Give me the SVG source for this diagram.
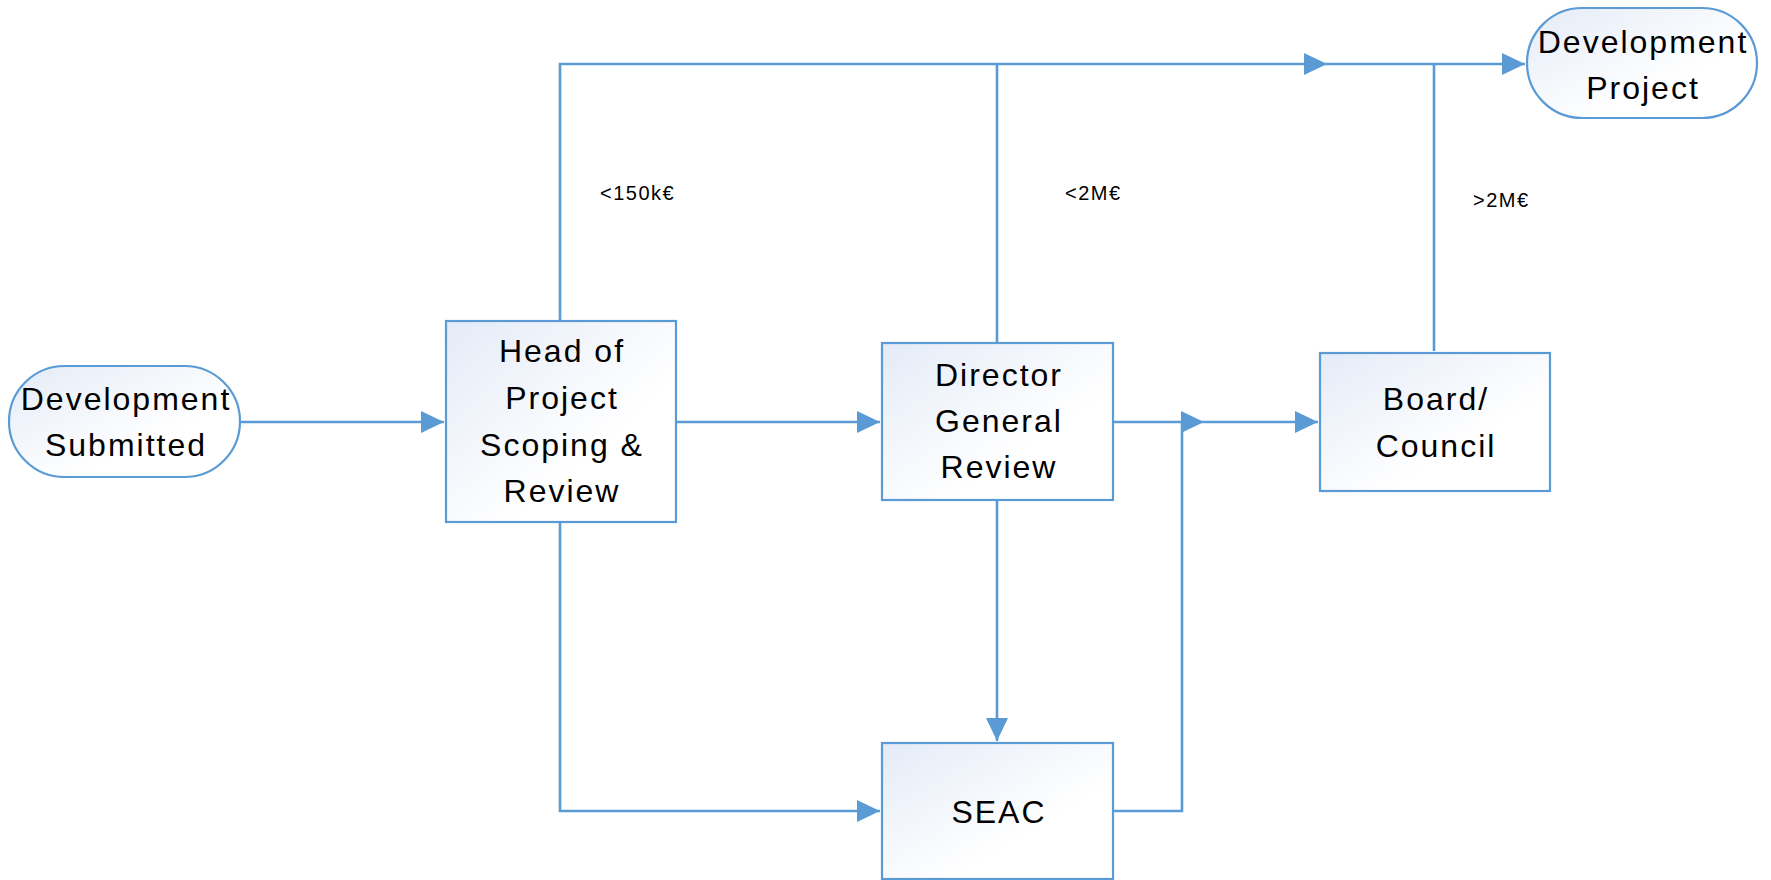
<svg xmlns="http://www.w3.org/2000/svg" width="1771" height="880" viewBox="0 0 1771 880">
<style>
  .node { stroke: #5b9bd5; stroke-width: 2.2; fill: url(#g); }
  .t { font-family: "Liberation Sans", Arial, sans-serif; font-size: 32px; letter-spacing: 2px; fill: #000; text-anchor: middle; }
  .lbl { font-family: "Liberation Sans", Arial, sans-serif; font-size: 20px; letter-spacing: 1.5px; fill: #000; }
  .c { stroke: #5b9bd5; stroke-width: 2.6; fill: none; }
  .ah { fill: #5b9bd5; }
</style>
<defs>
  <linearGradient id="g" x1="0" y1="0" x2="1" y2="1">
    <stop offset="0" stop-color="#e4ebf7"/>
    <stop offset="0.65" stop-color="#ffffff"/>
    <stop offset="1" stop-color="#ffffff"/>
  </linearGradient>
  <marker id="arr" markerUnits="userSpaceOnUse" markerWidth="23" markerHeight="22" refX="23" refY="11" orient="auto">
    <path d="M0,0 L23,11 L0,22 z" fill="#5b9bd5"/>
  </marker>
</defs>
<rect width="1771" height="880" fill="#ffffff"/>

<g id="connectors">
  <path class="c" d="M240,422 H444" marker-end="url(#arr)"/>
  <path class="c" d="M676,422 H880" marker-end="url(#arr)"/>
  <path class="c" d="M1113,422 H1318" marker-end="url(#arr)"/>
  <polygon class="ah" points="1181,411 1204,422 1181,433"/>
  <path class="c" d="M1113,811 H1182 V422"/>
  <path class="c" d="M560,522 V811 H880" marker-end="url(#arr)"/>
  <path class="c" d="M997,500 V741" marker-end="url(#arr)"/>
  <path class="c" d="M560,321 V64 H1525" marker-end="url(#arr)"/>
  <polygon class="ah" points="1304,53 1327,64 1304,75"/>
  <path class="c" d="M997,343 V64"/>
  <path class="c" d="M1434,351 V64"/>
  <text class="lbl" x="600" y="200">&lt;150k€</text>
  <text class="lbl" x="1065" y="200">&lt;2M€</text>
  <text class="lbl" x="1473" y="207">&gt;2M€</text>
</g>

<g id="dev-submitted">
  <rect class="node" x="9" y="366" width="231" height="111" rx="55.5" ry="55.5"/>
  <text class="t" x="126" y="410">Development</text>
  <text class="t" x="126" y="456">Submitted</text>
</g>

<g id="head-of-project">
  <rect class="node" x="446" y="321" width="230" height="201"/>
  <text class="t" x="562" y="362">Head of</text>
  <text class="t" x="562" y="409">Project</text>
  <text class="t" x="562" y="456">Scoping &amp;</text>
  <text class="t" x="562" y="502">Review</text>
</g>

<g id="director-general">
  <rect class="node" x="882" y="343" width="231" height="157"/>
  <text class="t" x="999" y="386">Director</text>
  <text class="t" x="999" y="432">General</text>
  <text class="t" x="999" y="478">Review</text>
</g>

<g id="board-council">
  <rect class="node" x="1320" y="353" width="230" height="138"/>
  <text class="t" x="1436" y="410">Board/</text>
  <text class="t" x="1436" y="457">Council</text>
</g>

<g id="seac">
  <rect class="node" x="882" y="743" width="231" height="136"/>
  <text class="t" x="999" y="823">SEAC</text>
</g>

<g id="dev-project">
  <rect class="node" x="1527" y="8" width="230" height="110" rx="55" ry="55"/>
  <text class="t" x="1643" y="53">Development</text>
  <text class="t" x="1643" y="99">Project</text>
</g>
</svg>
